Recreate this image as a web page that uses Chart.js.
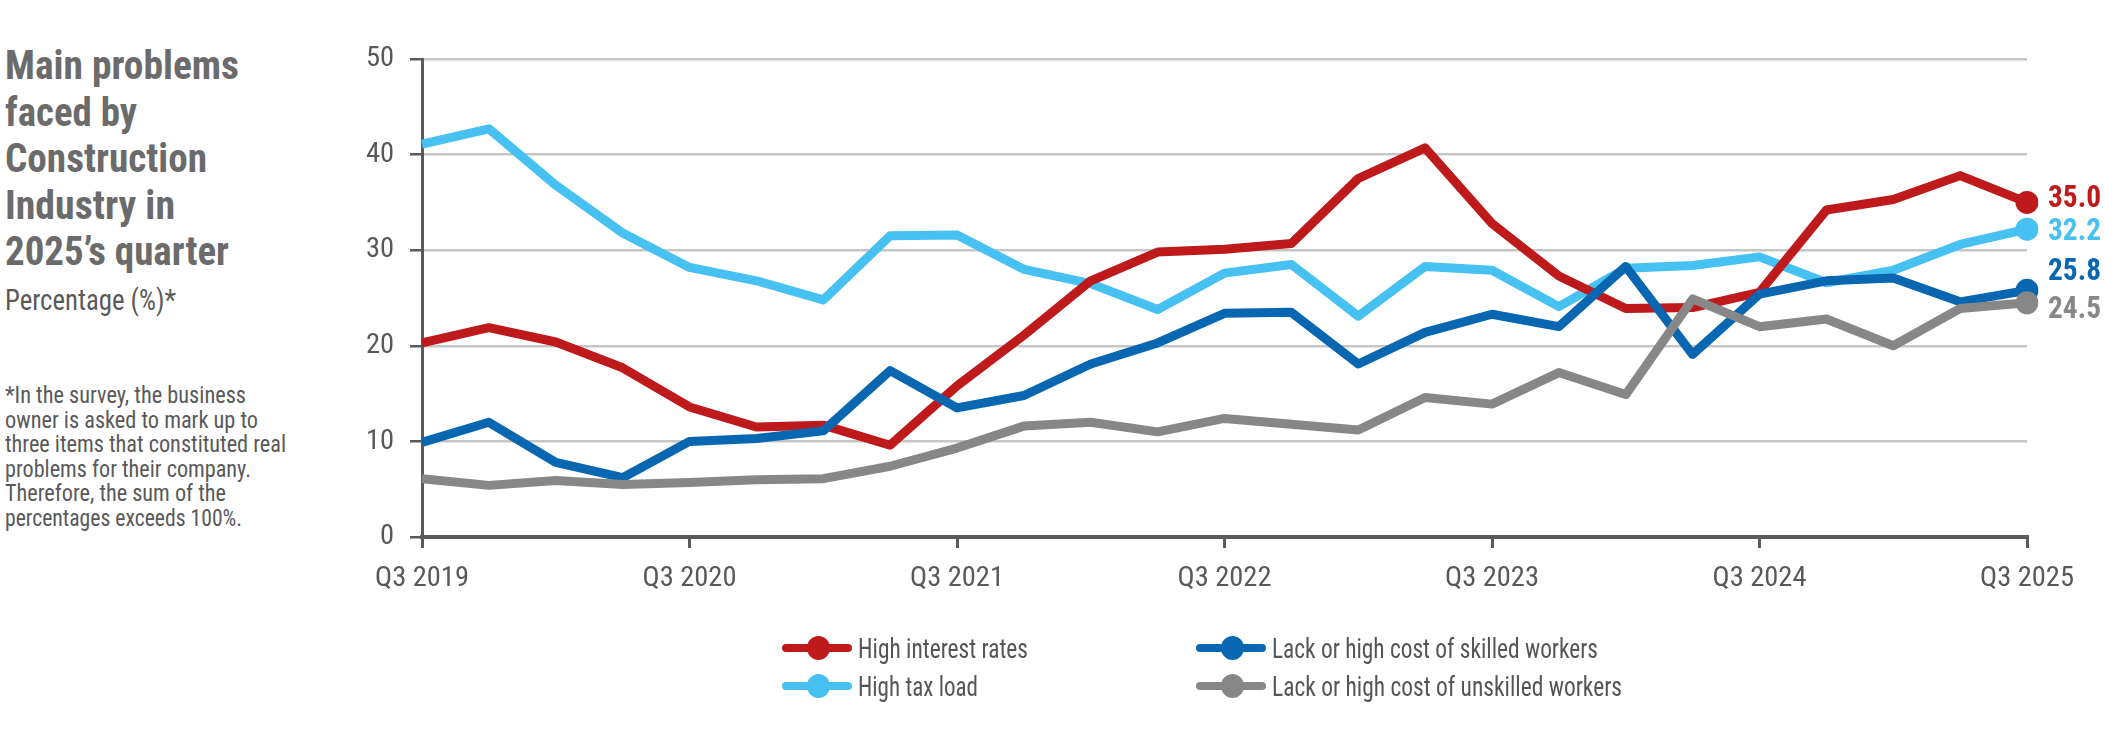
<!DOCTYPE html>
<html>
<head>
<meta charset="utf-8">
<script src="https://cdn.jsdelivr.net/npm/chart.js@4.4.1/dist/chart.umd.min.js"></script>
<style>
  html, body { margin:0; padding:0; background:#fff; width:2126px; height:738px; overflow:hidden; }
  body { font-family: 'Roboto Condensed', 'Open Sans Condensed', 'Liberation Sans Narrow', 'DejaVu Sans Condensed', 'Roboto', sans-serif; position:relative; }
  #chartBox { position:absolute; left:0; top:0; width:2126px; height:738px; }
  .txtline { display:block; white-space:nowrap; }
  .fit { display:inline-block; transform-origin:left center; white-space:nowrap; }
  #title { position:absolute; left:5px; top:43px; font-size:40px; line-height:46.5px; font-weight:bold; color:#6b6b6b; }
  #subtitle { position:absolute; left:5px; top:283px; font-size:29px; line-height:34px; color:#595959; }
  #note { position:absolute; left:5px; top:383px; font-size:23.5px; line-height:24.5px; color:#595959; }
  .leg { position:absolute; height:30px; display:flex; align-items:center; white-space:nowrap; }
  .sym { position:relative; width:70px; height:24px; margin-right:6px; flex:none; }
  .sym .ln { position:absolute; left:0; right:0; top:8px; height:8px; border-radius:4px; }
  .sym .dt { position:absolute; left:25px; top:0; width:23px; height:24px; border-radius:50%; }
  .leg .fit { font-size:28px; color:#555; }
</style>
</head>
<body>
<div id="title"></div>
<div id="subtitle"></div>
<div id="note"></div>
<div id="chartBox"><canvas id="c" width="2126" height="738"></canvas></div>
<div id="legend"></div>
<script>
// ---------- DATA ----------
const quarters = [
  'Q3 2019','Q4 2019','Q1 2020','Q2 2020','Q3 2020','Q4 2020','Q1 2021','Q2 2021',
  'Q3 2021','Q4 2021','Q1 2022','Q2 2022','Q3 2022','Q4 2022','Q1 2023','Q2 2023',
  'Q3 2023','Q4 2023','Q1 2024','Q2 2024','Q3 2024','Q4 2024','Q1 2025','Q2 2025','Q3 2025'
];
const highInterestRates = [20.3,21.9,20.4,17.7,13.6,11.5,11.7,9.6,15.8,21.1,26.8,29.8,30.1,30.7,37.5,40.7,32.8,27.3,23.9,24.0,25.6,34.2,35.3,37.8,35.0];
const highTaxLoad       = [41.1,42.7,36.8,31.8,28.2,26.8,24.8,31.5,31.6,28.0,26.5,23.8,27.6,28.5,23.1,28.3,27.9,24.1,28.1,28.4,29.3,26.6,27.9,30.6,32.2];
const skilledWorkers    = [9.9,12.0,7.8,6.2,10.0,10.3,11.1,17.4,13.5,14.8,18.1,20.3,23.4,23.5,18.1,21.4,23.3,22.0,28.3,19.1,25.4,26.8,27.1,24.6,25.8];
const unskilledWorkers  = [6.1,5.4,5.9,5.5,5.7,6.0,6.1,7.4,9.3,11.6,12.0,11.0,12.4,11.8,11.2,14.6,13.9,17.2,14.9,24.9,22.0,22.8,20.0,23.9,24.5];
const seriesNames = ['High interest rates','High tax load','Lack or high cost of skilled workers','Lack or high cost of unskilled workers'];
const yTickValues = [0,10,20,30,40,50];
const titleLines = ['Main problems','faced by','Construction','Industry in','2025’s quarter'];
const subtitleText = 'Percentage (%)*';
const noteLines = ['*In the survey, the business','owner is asked to mark up to','three items that constituted real','problems for their company.','Therefore, the sum of the','percentages exceeds 100%.'];

// ---------- STYLE ----------
const FONT = "'Roboto Condensed', 'Open Sans Condensed', 'Liberation Sans Narrow', 'DejaVu Sans Condensed', 'Roboto', sans-serif";
const colors = ['#be1a1c', '#47c1f1', '#0867b0', '#878787'];
const drawOrder = [2, 3, 1, 0];          // lower = on top
const endLabelShift = [-3, 3, -18, 7];   // vertical nudge of end labels (px)
const END_LABEL_W = 53;
const AXIS = '#5a5a5a';
const Y_W = 60, X_H = 60;
const LEFT = 422, RIGHT = 2027, TOP = 59, BOTTOM = 537;
const W = 2126, H = 738;
const titleW = [234, 132, 202, 170, 224];
const subtitleW = 171;
const noteW = [241, 253, 281, 246, 221, 237];
const legendW = [170, 120, 326, 350];

// font size for axis ticks so that "Q3 2019" is ~94px wide
const mctx = document.createElement('canvas').getContext('2d');
mctx.font = '100px ' + FONT;
const TICK_SIZE = Math.min(30, 94 / (mctx.measureText('Q3 2019').width / 100));

function fitText(el, target) {
  const w = el.getBoundingClientRect().width;
  if (w > 0) el.style.transform = 'scaleX(' + (target / w) + ')';
}
function addLines(container, lines, widths) {
  lines.forEach((t, i) => {
    const line = document.createElement('span');
    line.className = 'txtline';
    const s = document.createElement('span');
    s.className = 'fit';
    s.textContent = t;
    line.appendChild(s);
    container.appendChild(line);
    fitText(s, widths[i]);
  });
}
addLines(document.getElementById('title'), titleLines, titleW);
addLines(document.getElementById('subtitle'), [subtitleText], [subtitleW]);
addLines(document.getElementById('note'), noteLines, noteW);

const seriesData = [highInterestRates, highTaxLoad, skilledWorkers, unskilledWorkers];
const last = quarters.length - 1;

const endLabels = {
  id: 'endLabels',
  afterDatasetsDraw(chart) {
    const ctx = chart.ctx;
    chart.data.datasets.forEach((ds, i) => {
      const meta = chart.getDatasetMeta(i);
      const pt = meta.data[meta.data.length - 1];
      const txt = ds.data[ds.data.length - 1].toFixed(1);
      ctx.save();
      ctx.font = 'bold 31px ' + FONT;
      const w = ctx.measureText(txt).width;
      ctx.fillStyle = ds.borderColor;
      ctx.textAlign = 'left';
      ctx.textBaseline = 'middle';
      ctx.translate(pt.x + 21, pt.y + endLabelShift[i]);
      ctx.scale(END_LABEL_W / w, 1);
      ctx.fillText(txt, 0, 0);
      ctx.restore();
    });
  }
};

new Chart(document.getElementById('c'), {
  type: 'line',
  data: {
    labels: quarters,
    datasets: seriesData.map((d, i) => ({
      label: seriesNames[i],
      data: d,
      borderColor: colors[i],
      backgroundColor: colors[i],
      borderWidth: 9,
      borderJoinStyle: 'round',
      borderCapStyle: 'butt',
      tension: 0,
      fill: false,
      order: drawOrder[i],
      pointRadius: c => c.dataIndex === last ? 11.5 : 0,
      pointHoverRadius: 0,
      pointBorderWidth: 0,
      pointBackgroundColor: colors[i]
    }))
  },
  options: {
    responsive: false,
    animation: false,
    devicePixelRatio: 1,
    layout: { padding: { left: LEFT - Y_W, right: W - RIGHT, top: TOP, bottom: H - BOTTOM - X_H } },
    plugins: { legend: { display: false }, tooltip: { enabled: false } },
    scales: {
      x: {
        type: 'category',
        offset: false,
        grid: {
          drawOnChartArea: false,
          drawTicks: true,
          tickLength: 11,
          lineWidth: 3,
          color: c => (quarters[c.index] || '').startsWith('Q3') ? AXIS : 'rgba(0,0,0,0)'
        },
        border: { color: AXIS, width: 4 },
        ticks: {
          autoSkip: false, maxRotation: 0, minRotation: 0, padding: 14,
          color: '#595959', font: { family: FONT, size: TICK_SIZE },
          callback: (v, i) => quarters[i].startsWith('Q3') ? quarters[i] : ''
        },
        afterFit: s => { s.height = X_H; }
      },
      y: {
        min: 0, max: 50,
        afterBuildTicks: s => { s.ticks = yTickValues.map(v => ({ value: v })); },
        grid: { color: '#c6c6c6', lineWidth: 2.5, tickColor: AXIS, tickLength: 12, drawTicks: true },
        border: { color: AXIS, width: 3 },
        ticks: { padding: 16, color: '#595959', font: { family: FONT, size: TICK_SIZE } },
        afterFit: s => { s.width = Y_W; }
      }
    }
  },
  plugins: [endLabels]
});

// ---------- HTML LEGEND (from dataset names/colours) ----------
const legendPos = [
  { left: 782, top: 633 }, { left: 782, top: 671 },
  { left: 1196, top: 633 }, { left: 1196, top: 671 }
];
const legendEl = document.getElementById('legend');
seriesNames.forEach((name, i) => {
  const d = document.createElement('div');
  d.className = 'leg';
  d.style.left = legendPos[i].left + 'px';
  d.style.top = legendPos[i].top + 'px';
  d.innerHTML = '<span class="sym"><span class="ln" style="background:' + colors[i] + '"></span><span class="dt" style="background:' + colors[i] + '"></span></span>';
  const t = document.createElement('span');
  t.className = 'fit';
  t.textContent = name;
  d.appendChild(t);
  legendEl.appendChild(d);
  fitText(t, legendW[i]);
});
</script>
</body>
</html>
